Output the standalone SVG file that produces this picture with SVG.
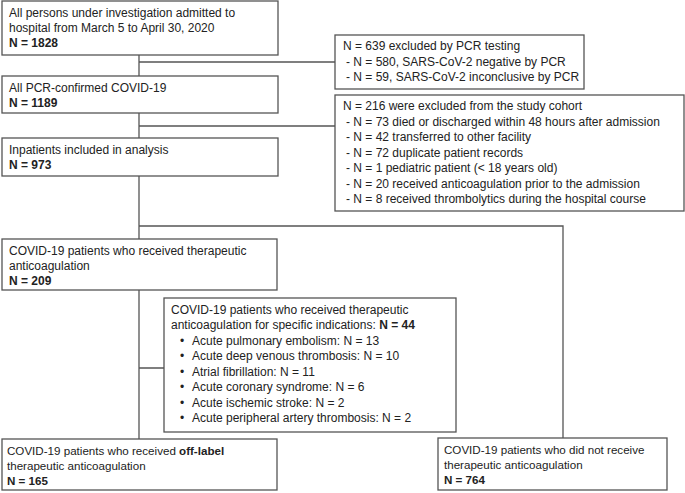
<svg xmlns="http://www.w3.org/2000/svg" width="685" height="493" viewBox="0 0 685 493">
<style>
.box{fill:#fff;stroke:#555;stroke-width:1.3}
.ln{fill:none;stroke:#555;stroke-width:1.3}
text{font-family:"Liberation Sans",Arial,sans-serif;font-size:12px;fill:#222}
.b{font-weight:bold}
.s{font-size:11.6px}
</style>
<rect width="685" height="493" fill="#fff"/>
<g id="connectors">
<path class="ln" d="M139 55V76M139 62H335M139 113V138M139 126H335M139 176V239M139 226H563V438M139 290V439M139 368H164"/>
</g>
<g id="n1">
<rect class="box" x="2" y="1" width="276" height="54"/>
<text x="9" y="17">All persons under investigation admitted to</text>
<text x="9" y="32">hospital from March 5 to April 30, 2020</text>
<text x="9" y="47" class="b">N = 1828</text>
</g>
<g id="n2">
<rect class="box" x="2" y="76" width="276" height="37"/>
<text x="9" y="92">All PCR-confirmed COVID-19</text>
<text x="9" y="107" class="b">N = 1189</text>
</g>
<g id="n3">
<rect class="box" x="2" y="138" width="276" height="38"/>
<text x="9" y="154">Inpatients included in analysis</text>
<text x="9" y="169" class="b">N = 973</text>
</g>
<g id="excl1">
<rect class="box" x="335" y="35" width="249" height="54"/>
<text x="343" y="50">N = 639 excluded by PCR testing</text>
<text x="346" y="66">- N = 580, SARS-CoV-2 negative by PCR</text>
<text x="346" y="81">- N = 59, SARS-CoV-2 inconclusive by PCR</text>
</g>
<g id="excl2">
<rect class="box" x="335" y="95" width="349" height="116"/>
<text x="343" y="110">N = 216 were excluded from the study cohort</text>
<text x="346" y="126">- N = 73 died or discharged within 48 hours after admission</text>
<text x="346" y="141">- N = 42 transferred to other facility</text>
<text x="346" y="157">- N = 72 duplicate patient records</text>
<text x="346" y="172">- N = 1 pediatric patient (&lt; 18 years old)</text>
<text x="346" y="188">- N = 20 received anticoagulation prior to the admission</text>
<text x="346" y="203">- N = 8 received thrombolytics during the hospital course</text>
</g>
<g id="n4">
<rect class="box" x="2" y="239" width="275" height="51"/>
<text x="9" y="255">COVID-19 patients who received therapeutic</text>
<text x="9" y="270">anticoagulation</text>
<text x="9" y="285" class="b">N = 209</text>
</g>
<g id="specific">
<rect class="box" x="164" y="298" width="292" height="134"/>
<text x="171" y="314">COVID-19 patients who received therapeutic</text>
<text x="171" y="329">anticoagulation for specific indications: <tspan class="b">N = 44</tspan></text>
<text x="180" y="345">•</text><text x="192" y="345">Acute pulmonary embolism: N = 13</text>
<text x="180" y="360">•</text><text x="192" y="360">Acute deep venous thrombosis: N = 10</text>
<text x="180" y="376">•</text><text x="192" y="376">Atrial fibrillation: N = 11</text>
<text x="180" y="391">•</text><text x="192" y="391">Acute coronary syndrome: N = 6</text>
<text x="180" y="407">•</text><text x="192" y="407">Acute ischemic stroke: N = 2</text>
<text x="180" y="422">•</text><text x="192" y="422">Acute peripheral artery thrombosis: N = 2</text>
</g>
<g id="offlabel">
<rect class="box" x="2" y="439" width="275" height="51"/>
<text x="7" y="455" class="s">COVID-19 patients who received <tspan class="b">off-label</tspan></text>
<text x="7" y="470" class="s">therapeutic anticoagulation</text>
<text x="7" y="485" class="s b">N = 165</text>
</g>
<g id="noreceive">
<rect class="box" x="438" y="438" width="229" height="52"/>
<text x="444" y="454" class="s">COVID-19 patients who did not receive</text>
<text x="444" y="469" class="s">therapeutic anticoagulation</text>
<text x="444" y="484" class="s b">N = 764</text>
</g>
</svg>
